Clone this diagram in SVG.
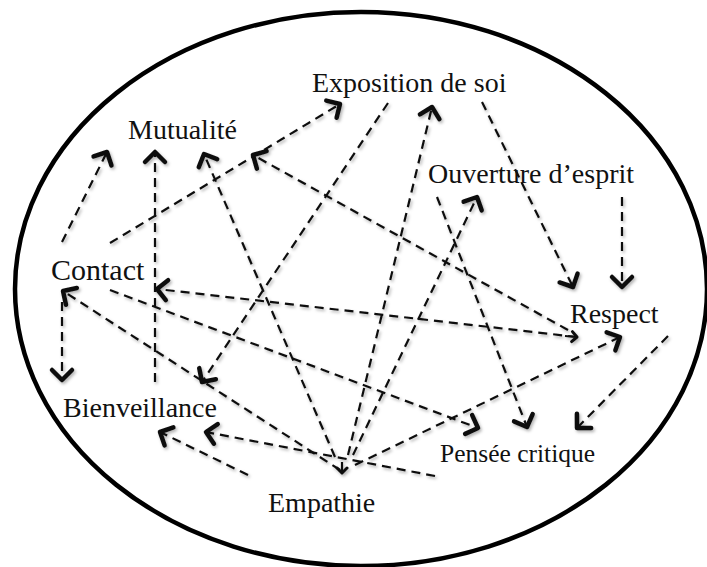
<svg xmlns="http://www.w3.org/2000/svg" width="707" height="567" viewBox="0 0 707 567">
<style>
.lbl{font-family:"Liberation Serif","Times New Roman",serif;font-size:28px;fill:#111}
.c{fill:none;stroke:#111;stroke-width:2.2;stroke-dasharray:9 6}
.ah{fill:none;stroke:#111;stroke-width:4.5;stroke-linecap:round;stroke-linejoin:round;stroke-dasharray:none}
.ahs{fill:none;stroke:#111;stroke-width:3;stroke-linecap:round;stroke-linejoin:round;stroke-dasharray:none}
</style>
<defs>
<filter id="sh" x="-10%" y="-10%" width="120%" height="120%">
<feDropShadow dx="1.5" dy="2" stdDeviation="1.5" flood-color="#000" flood-opacity="0.3"/>
</filter>
<marker id="big" viewBox="-14 -14 18 28" refX="0" refY="0" markerWidth="18" markerHeight="28" markerUnits="userSpaceOnUse" orient="auto-start-reverse">
<path class="ah" d="M-10,-10 L0,0 L-10,10"/>
</marker>
<marker id="small" viewBox="-8 -8 10 16" refX="0" refY="0" markerWidth="10" markerHeight="16" markerUnits="userSpaceOnUse" orient="auto">
<path class="ahs" d="M-5,-5 L0,0 L-5,5"/>
</marker>
</defs>
<rect width="707" height="567" fill="#fff"/>
<ellipse id="frame" cx="361" cy="289" rx="346" ry="277" fill="none" stroke="#000" stroke-width="4.5"/>
<g id="connectors" filter="url(#sh)">
<line class="c" x1="62" y1="242" x2="107" y2="152" marker-end="url(#big)"/>
<line class="c" x1="110" y1="243" x2="340" y2="104" marker-end="url(#big)"/>
<line class="c" x1="62" y1="302" x2="62" y2="380" marker-end="url(#big)"/>
<line class="c" x1="155" y1="382" x2="155" y2="152" marker-end="url(#big)"/>
<line class="c" x1="335" y1="457" x2="204" y2="154" marker-end="url(#big)"/>
<line class="c" x1="388" y1="103" x2="202" y2="382" marker-end="url(#big)"/>
<line class="c" x1="348" y1="455" x2="432" y2="107" marker-end="url(#big)"/>
<line class="c" x1="353" y1="455" x2="477" y2="197" marker-end="url(#big)"/>
<line class="c" x1="482" y1="102" x2="573" y2="287" marker-end="url(#big)"/>
<line class="c" x1="622" y1="197" x2="622" y2="287" marker-end="url(#big)"/>
<line class="c" x1="568" y1="330" x2="253" y2="155" marker-end="url(#big)"/>
<line class="c" x1="577" y1="337" x2="157" y2="289" marker-end="url(#big)"/>
<line class="c" x1="110" y1="290" x2="478" y2="428" marker-end="url(#big)"/>
<line class="c" x1="340" y1="470" x2="63" y2="291" marker-end="url(#big)"/>
<line class="c" x1="435" y1="476" x2="206" y2="432" marker-end="url(#big)"/>
<line class="c" x1="248" y1="475" x2="160" y2="432" marker-end="url(#big)"/>
<line class="c" x1="355" y1="465" x2="620" y2="337" marker-end="url(#big)"/>
<line class="c" x1="437" y1="197" x2="527" y2="427" marker-end="url(#big)"/>
<line class="c" x1="668" y1="336" x2="577" y2="428" marker-end="url(#big)"/>
<path class="c" d="M342,462 L342,473" marker-end="url(#small)"/>
<path class="c" d="M565,336 L577,337" marker-end="url(#small)"/>
</g>
<g id="n-exposition"><text class="lbl" x="312" y="92">Exposition de soi</text></g>
<g id="n-mutualite"><text class="lbl" x="128" y="139">Mutualité</text></g>
<g id="n-ouverture"><text class="lbl" x="428" y="183">Ouverture d’esprit</text></g>
<g id="n-contact"><text class="lbl" x="51" y="280" style="font-size:30px">Contact</text></g>
<g id="n-respect"><text class="lbl" x="570" y="323">Respect</text></g>
<g id="n-bienveillance"><text class="lbl" x="63" y="417">Bienveillance</text></g>
<g id="n-pensee"><text class="lbl" x="440" y="462" style="font-size:25.5px">Pensée critique</text></g>
<g id="n-empathie"><text class="lbl" x="268" y="512">Empathie</text></g>
</svg>
